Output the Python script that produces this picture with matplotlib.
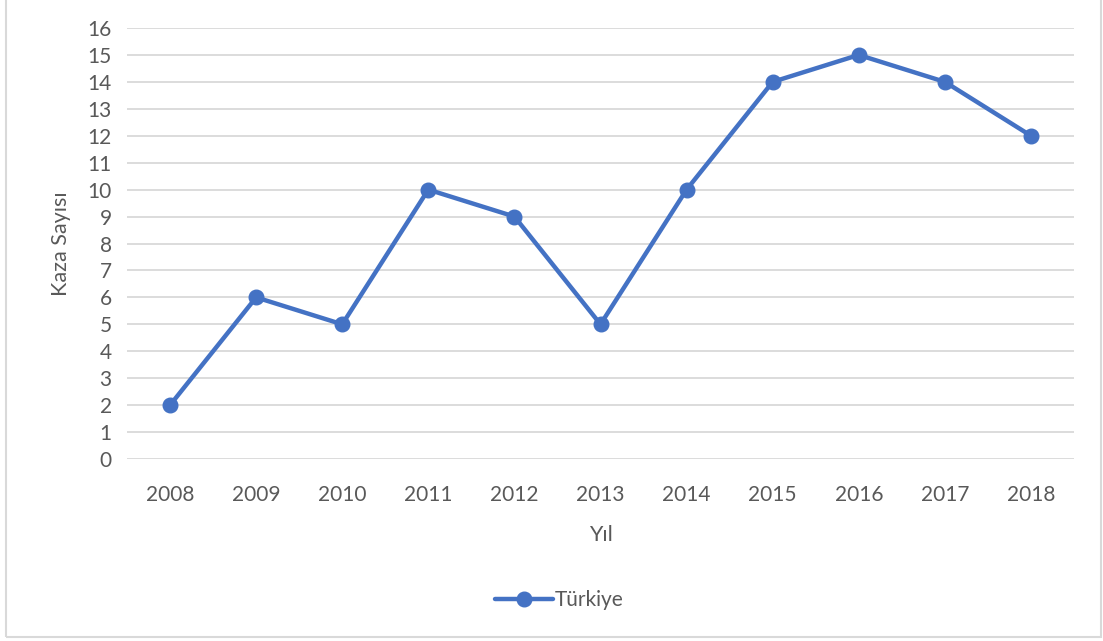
import matplotlib.pyplot as plt
from matplotlib.patches import Rectangle

# data
years = ["2008", "2009", "2010", "2011", "2012", "2013", "2014", "2015", "2016", "2017", "2018"]
kaza_sayisi = [2, 6, 5, 10, 9, 5, 10, 14, 15, 14, 12]
y_ticks = list(range(0, 17))

plt.rcParams["font.family"] = ["Lato", "DejaVu Sans"]
text_color = "#595959"
line_color = "#4472C4"

fig = plt.figure(figsize=(11.03, 6.41), dpi=100)
ax = fig.add_axes([127 / 1103, 1 - 459 / 641, 947 / 1103, 431 / 641])

x = list(range(len(years)))
ax.plot(x, kaza_sayisi, color=line_color, linewidth=3.2, marker="o",
        markersize=10.5, label="Türkiye", solid_capstyle="round", zorder=3)

ax.set_xlim(-0.5, len(years) - 0.5)
ax.set_ylim(0, 16)
ax.set_yticks(y_ticks)
ax.set_xticks(x)
ax.set_xticklabels(years)
ax.grid(axis="y", color="#D9D9D9", linewidth=1.3)
ax.set_axisbelow(True)
for s in ax.spines.values():
    s.set_visible(False)
ax.tick_params(length=0, labelsize=15, colors=text_color)
ax.tick_params(axis="y", pad=11)
ax.tick_params(axis="x", pad=19)

ax.set_ylabel("Kaza Sayısı", fontsize=15.5, color=text_color, labelpad=12)
ax.set_xlabel("Yıl", fontsize=15.5, color=text_color, labelpad=14)

fig.legend(loc="center", bbox_to_anchor=(0.507, 1 - 600 / 641), frameon=False,
           fontsize=15, labelcolor=text_color, handlelength=2.8, handletextpad=0.1)

# outer chart border
fig.patches.append(Rectangle((6 / 1103, 4 / 641), 1095 / 1103, 660 / 641,
                             transform=fig.transFigure, fill=False,
                             edgecolor="#D9D9D9", linewidth=1.5))

fig.savefig("out.png", dpi=100, facecolor="white")
